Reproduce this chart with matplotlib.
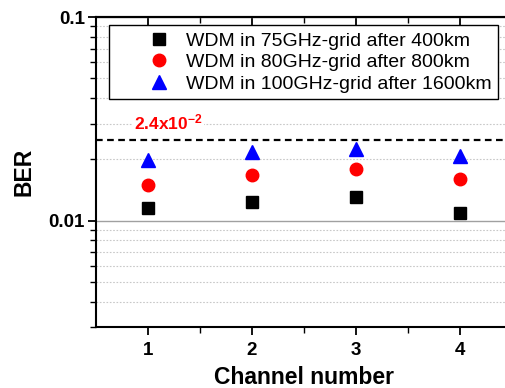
import numpy as np
import matplotlib
matplotlib.use("Agg")
import matplotlib.pyplot as plt
from matplotlib.ticker import LogLocator, FixedLocator, NullFormatter

plt.rcParams['font.family'] = ['Liberation Sans', 'DejaVu Sans']
plt.rcParams['mathtext.fontset'] = 'custom'
plt.rcParams['mathtext.bf'] = 'Liberation Sans:bold'
plt.rcParams['mathtext.rm'] = 'Liberation Sans:bold'

# data
channels = [1, 2, 3, 4]
ber_75 = [0.0115, 0.0123, 0.0130, 0.0109]
ber_80 = [0.0150, 0.0168, 0.0179, 0.0160]
ber_100 = [0.0198, 0.0218, 0.0224, 0.0208]
labels = ['WDM in 75GHz-grid after 400km',
          'WDM in 80GHz-grid after 800km',
          'WDM in 100GHz-grid after 1600km']
threshold = 0.025
threshold_label = r'$\mathbf{2.4x10^{-2}}$'

fig = plt.figure(figsize=(5.05, 3.88), dpi=100)
ax = fig.add_axes([0.190, 0.157, 0.823, 0.799])

ax.set_yscale('log')
ax.set_ylim(0.003, 0.1)
ax.set_xlim(0.5, 4.5)

# grid lines
ax.yaxis.set_major_locator(FixedLocator([0.01, 0.1]))
ax.yaxis.set_minor_locator(LogLocator(base=10, subs=np.arange(2, 10)))
ax.yaxis.set_minor_formatter(NullFormatter())
ax.set_yticklabels(['0.01', '0.1'])
ax.grid(axis='y', which='major', color='#a0a0a0', linestyle='-', linewidth=1.0)
ax.grid(axis='y', which='minor', color='#c8c8c8', linestyle=(0, (1.5, 1.5)), linewidth=0.8)
ax.set_axisbelow(True)

ax.axhline(threshold, color='black', linestyle=(0, (3, 2)), linewidth=1.6, zorder=2)
ax.text(1.2, 0.0302, threshold_label, color='red', fontsize=12.5, ha='center', va='center',
        bbox=dict(facecolor='white', edgecolor='none', pad=1), zorder=3)

ax.plot(channels, ber_75, 's', color='black', markersize=8.5, linestyle='none', label=labels[0], zorder=4)
ax.plot(channels, ber_80, 'o', color='red', markersize=9, linestyle='none', label=labels[1], zorder=4)
ax.plot(channels, ber_100, '^', color='blue', markersize=10, linestyle='none', label=labels[2], zorder=4)

ax.set_xticks(channels)
ax.set_xticks([1.5, 2.5, 3.5], minor=True)
for lab in ax.get_xticklabels() + ax.get_yticklabels():
    lab.set_fontweight('bold')
ax.tick_params(axis='both', which='major', labelsize=13.5, length=6, width=1.3, direction='out')
ax.tick_params(axis='both', which='minor', length=4, width=1.0, direction='out')
ax.tick_params(axis='y', which='major', pad=2)
ax.tick_params(axis='x', which='major', pad=5)

top = ax.secondary_xaxis('top')
top.set_xticks(channels)
top.set_xticks([1.5, 2.5, 3.5], minor=True)
top.set_xticklabels([])
top.tick_params(which='major', direction='in', length=6, width=1.3)
top.tick_params(which='minor', direction='in', length=4, width=1.0)
top.spines['top'].set_linewidth(1.5)

for s in ax.spines.values():
    s.set_linewidth(1.5)

ax.set_xlabel('Channel number', fontsize=16.5, fontweight='bold', labelpad=5)
ax.set_ylabel('BER', fontsize=16.5, fontweight='bold', labelpad=9)

leg = ax.legend(loc='upper left', bbox_to_anchor=(0.031, 0.974), fontsize=14,
                frameon=True, fancybox=False, edgecolor='black', framealpha=1,
                handletextpad=-0.9, labelspacing=0.2, borderpad=0.35, handlelength=4.5,
                borderaxespad=0, numpoints=1)
leg.get_frame().set_linewidth(1.0)
leg.set_zorder(5)

fig.savefig('out.png', dpi=100)
